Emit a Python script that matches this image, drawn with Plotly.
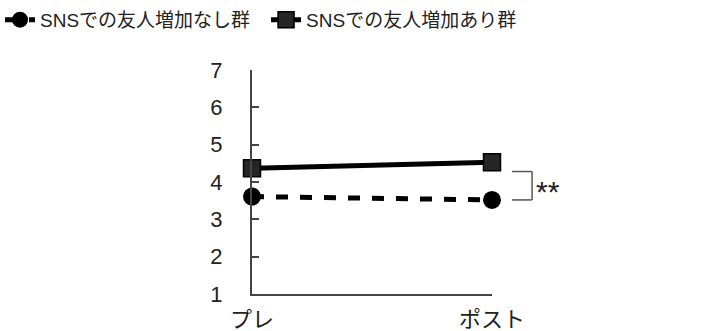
import plotly.graph_objects as go

# Two measurement points and group means
phases = ["プレ", "ポスト"]
no_increase = [3.61, 3.52]    # SNSでの友人増加なし群
increase = [4.37, 4.53]       # SNSでの友人増加あり群
y_ticks = [1, 2, 3, 4, 5, 6, 7]
y_min, y_max = 1, 7

FONT = "Liberation Sans, Noto Sans CJK JP, sans-serif"
xpos = list(range(len(phases)))

fig = go.Figure()
fig.add_trace(go.Scatter(
    x=xpos, y=no_increase, name="SNSでの友人増加なし群", legend="legend",
    mode="lines+markers", cliponaxis=False,
    line=dict(color="black", width=5, dash="12px,12px"),
    marker=dict(symbol="circle", size=18, color="black"),
))
fig.add_trace(go.Scatter(
    x=xpos, y=increase, name="SNSでの友人増加あり群", legend="legend2",
    mode="lines+markers", cliponaxis=False,
    line=dict(color="black", width=5),
    marker=dict(symbol="square", size=17, color="#262626",
                line=dict(color="black", width=1.5)),
))


def to_paper(v):
    return (v - y_min) / (y_max - y_min)


# Significance bracket between the two groups at the post point
top = to_paper(increase[-1] - 0.25)
bottom = to_paper(no_increase[-1])
bx0, bx1 = 1.083, 1.167
for (x0, y0, x1, y1) in [(bx0, top, bx1, top), (bx1, top, bx1, bottom), (bx0, bottom, bx1, bottom)]:
    fig.add_shape(type="line", x0=x0, y0=y0, x1=x1, y1=y1, xref="paper", yref="paper",
                  line=dict(color="#555555", width=1.5))
fig.add_annotation(x=bx1, y=(top + bottom) / 2, xref="paper", yref="paper", text="**",
                   showarrow=False, xanchor="left", xshift=2, yshift=-6,
                   font=dict(family=FONT, size=30, color="#222222"))

legend_style = dict(orientation="h", xref="container", yref="container",
                    xanchor="left", y=0.94, yanchor="middle",
                    font=dict(family=FONT, size=19), bgcolor="rgba(0,0,0,0)")

fig.update_layout(
    width=723, height=331,
    margin=dict(l=252, r=231, t=70, b=37, autoexpand=False),
    paper_bgcolor="white", plot_bgcolor="white",
    font=dict(family=FONT, size=19, color="#222222"),
    showlegend=True,
    legend=dict(x=0.0, **legend_style),
    legend2=dict(x=0.368, **legend_style),
)
fig.update_xaxes(range=[0, 1], tickvals=xpos, ticktext=phases,
                 showline=True, linecolor="#444444", linewidth=2,
                 ticks="inside", ticklen=5, tickcolor="#444444", tickwidth=1.5,
                 ticklabelstandoff=5,
                 showgrid=False, zeroline=False,
                 tickfont=dict(family=FONT, size=22, color="#222222"))
fig.update_yaxes(range=[y_min, y_max], tickvals=y_ticks,
                 showline=True, linecolor="#444444", linewidth=2,
                 ticks="inside", ticklen=7, tickcolor="#444444", tickwidth=1.5,
                 ticklabelstandoff=23,
                 showgrid=False, zeroline=False,
                 tickfont=dict(family=FONT, size=22, color="#222222"))

fig.write_html("out.html")
